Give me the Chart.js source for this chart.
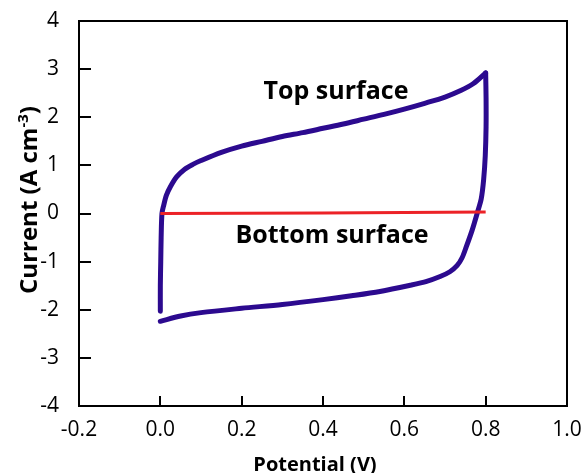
<!DOCTYPE html>
<html>
<head>
<meta charset="utf-8">
<script src="https://cdn.jsdelivr.net/npm/chart.js@4.4.1/dist/chart.umd.min.js"></script>
<style>
  html, body { margin: 0; padding: 0; background: #fff; }
</style>
</head>
<body>
<canvas id="grafico" width="584" height="473"></canvas>
<script>
// Varredura de ida (superfície superior) - potencial (V) e corrente (A cm-3)
const idaX = [0, 0, 0.001, 0.002, 0.004, 0.008, 0.015, 0.025, 0.04, 0.06, 0.08, 0.1, 0.15, 0.2, 0.25, 0.3, 0.35, 0.4, 0.45, 0.5, 0.55, 0.6, 0.65, 0.7, 0.74, 0.77, 0.8];
const idaY = [-2.03, -1.5, -1.0, -0.5, 0, 0.16, 0.38, 0.56, 0.76, 0.92, 1.02, 1.1, 1.27, 1.4, 1.5, 1.6, 1.68, 1.77, 1.86, 1.96, 2.06, 2.17, 2.29, 2.42, 2.56, 2.7, 2.92];

// Varredura de volta
const voltaX = [0.8, 0.801, 0.801, 0.799, 0.795, 0.789, 0.78, 0.767, 0.752, 0.742, 0.73, 0.712, 0.688, 0.655, 0.615, 0.54, 0.47, 0.4, 0.3, 0.2, 0.1, 0.05, 0];
const voltaY = [2.92, 2.4, 1.8, 1.2, 0.7, 0.3, 0.03, -0.34, -0.7, -0.92, -1.08, -1.21, -1.31, -1.41, -1.49, -1.62, -1.71, -1.79, -1.89, -1.97, -2.06, -2.13, -2.24];

// Superfície inferior (praticamente zero)
const inferiorX = [0, 0.2, 0.4, 0.6, 0.8];
const inferiorY = [0, 0.005, 0.01, 0.02, 0.03];

// Marcas dos eixos
const ticksX = [-0.2, 0, 0.2, 0.4, 0.6, 0.8, 1.0];
const ticksY = [-4, -3, -2, -1, 0, 1, 2, 3, 4];

// Rótulos
const rotuloSuperior = 'Top surface';
const rotuloInferior = 'Bottom surface';
const tituloX = 'Potential (V)';

const fonte = '"Open Sans", "DejaVu Sans", sans-serif';
const roxo = '#2c0a8f';

function pares(xs, ys) {
    return xs.map((x, i) => ({ x: x, y: ys[i] }));
}

// Plugin para borda, marcas internas, títulos e anotações
const extras = {
    id: 'extras',
    beforeDatasetsDraw(chart) {
        const ctx = chart.ctx;
        const a = chart.chartArea;
        const sx = chart.scales.x;
        const sy = chart.scales.y;
        ctx.save();
        ctx.strokeStyle = '#000';
        ctx.lineWidth = 2;
        ctx.strokeRect(a.left, a.top, a.right - a.left, a.bottom - a.top);
        ctx.beginPath();
        ticksY.slice(1, -1).forEach(v => {
            const py = Math.round(sy.getPixelForValue(v));
            ctx.moveTo(a.left, py);
            ctx.lineTo(a.left + 12, py);
        });
        ticksX.slice(1, -1).forEach(v => {
            const px = Math.round(sx.getPixelForValue(v));
            ctx.moveTo(px, a.bottom);
            ctx.lineTo(px, a.bottom - 10);
        });
        ctx.stroke();
        ctx.restore();
    },
    afterDraw(chart) {
        const ctx = chart.ctx;
        const sx = chart.scales.x;
        const sy = chart.scales.y;
        ctx.save();
        ctx.fillStyle = '#000';
        ctx.textAlign = 'center';
        ctx.textBaseline = 'alphabetic';

        // anotações
        ctx.font = 'bold 25px ' + fonte;
        ctx.fillText(rotuloSuperior, sx.getPixelForValue(0.432), sy.getPixelForValue(2.38));
        ctx.fillText(rotuloInferior, sx.getPixelForValue(0.422), sy.getPixelForValue(-0.61));

        // título do eixo x
        ctx.font = 'bold 20px ' + fonte;
        ctx.fillText(tituloX, 315, 471);

        // título do eixo y com expoente
        ctx.translate(37, 200);
        ctx.rotate(-Math.PI / 2);
        const p1 = 'Current (A cm';
        const sup = '-3';
        const p3 = ')';
        ctx.font = 'bold 24px ' + fonte;
        const w1 = ctx.measureText(p1).width;
        const w3 = ctx.measureText(p3).width;
        ctx.font = 'bold 15px ' + fonte;
        const w2 = ctx.measureText(sup).width;
        const total = w1 + w2 + w3;
        const x0 = -total / 2;
        ctx.textAlign = 'left';
        ctx.font = 'bold 24px ' + fonte;
        ctx.fillText(p1, x0, 0);
        ctx.font = 'bold 15px ' + fonte;
        ctx.fillText(sup, x0 + w1, -9);
        ctx.font = 'bold 24px ' + fonte;
        ctx.fillText(p3, x0 + w1 + w2, 0);
        ctx.restore();
    }
};

const estiloRoxo = {
    showLine: true,
    borderColor: roxo,
    borderWidth: 5,
    pointRadius: 0,
    tension: 0.3,
    borderJoinStyle: 'round',
    borderCapStyle: 'round',
    order: 1
};

const ctx = document.getElementById('grafico').getContext('2d');
new Chart(ctx, {
    type: 'scatter',
    data: {
        datasets: [
            {
                label: 'Bottom surface',
                data: pares(inferiorX, inferiorY),
                showLine: true,
                borderColor: '#ec2227',
                borderWidth: 3,
                pointRadius: 0,
                tension: 0,
                order: 0
            },
            Object.assign({ label: 'Top surface (ida)', data: pares(idaX, idaY) }, estiloRoxo),
            Object.assign({ label: 'Top surface (volta)', data: pares(voltaX, voltaY) }, estiloRoxo)
        ]
    },
    options: {
        responsive: false,
        animation: false,
        layout: { padding: { left: 0, top: 21, right: 17, bottom: 0 } },
        plugins: {
            legend: { display: false },
            tooltip: { enabled: false }
        },
        scales: {
            x: {
                type: 'linear',
                min: -0.2,
                max: 1.0,
                afterBuildTicks: s => { s.ticks = ticksX.map(v => ({ value: v })); },
                afterFit: s => { s.height = 67; s.paddingLeft = 0; s.paddingRight = 0; },
                grid: { display: false, drawTicks: false },
                border: { display: false },
                ticks: {
                    color: '#000',
                    padding: 11,
                    maxRotation: 0,
                    autoSkip: false,
                    font: { family: fonte, size: 21 },
                    callback: v => Number(v).toFixed(1)
                }
            },
            y: {
                type: 'linear',
                min: -4,
                max: 4,
                afterBuildTicks: s => { s.ticks = ticksY.map(v => ({ value: v })); },
                afterFit: s => { s.width = 79; s.paddingTop = 0; s.paddingBottom = 0; },
                grid: { display: false, drawTicks: false },
                border: { display: false },
                ticks: {
                    color: '#000',
                    padding: 20,
                    autoSkip: false,
                    font: { family: fonte, size: 21 },
                    callback: v => String(v)
                }
            }
        }
    },
    plugins: [extras]
});
</script>
</body>
</html>
